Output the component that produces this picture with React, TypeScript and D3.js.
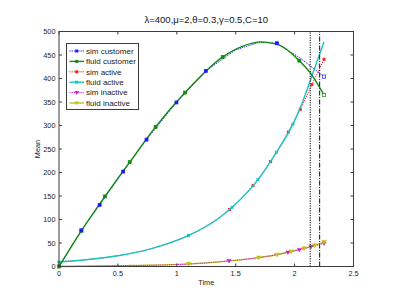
import { useEffect, useRef } from "react";
import * as d3 from "d3";

const TITLE = "λ=400,μ=2,θ=0.3,γ=0.5,C=10";
const X_TICKS = [0, 0.5, 1, 1.5, 2, 2.5];
const Y_TICKS = [0, 50, 100, 150, 200, 250, 300, 350, 400, 450, 500];

// fluid customer (curve points, markers)
const fluidCustT = [0, 0.19, 0.39, 0.6, 0.82, 1.07, 1.39, 1.55, 1.72, 1.86, 2.04, 2.13, 2.25];
const fluidCustV = [0, 76, 149, 222, 297, 370, 446, 468, 478, 472, 438, 413, 365];
const fluidCustMarkT = [0, 0.19, 0.39, 0.6, 0.82, 1.07, 1.39, 2.04, 2.25];
const fluidCustMarkV = [0, 76, 149, 222, 297, 370, 446, 438, 365];

// sim customer
const simCustT = [0, 0.19, 0.345, 0.545, 0.743, 0.997, 1.246, 1.5, 1.7, 1.85, 2.05, 2.25];
const simCustV = [0, 77, 131, 202, 270, 349, 416, 461, 477, 475, 443, 404];
const simCustMarkT = [0.19, 0.345, 0.545, 0.743, 0.997, 1.246, 1.85, 2.25];
const simCustMarkV = [77, 131, 202, 270, 349, 416, 475, 404];

// fluid active
const fluidActT = [0, 0.25, 0.5, 0.77, 1.1, 1.336, 1.469, 1.689, 1.845, 1.986, 2.06, 2.16, 2.25];
const fluidActV = [9.5, 15, 23, 37, 66, 99, 126, 185, 243, 303, 345, 415, 478];
const fluidActMarkT = [0, 1.1, 1.469, 1.689, 1.845, 1.986];
const fluidActMarkV = [9.5, 66, 126, 185, 243, 303];

// sim active
const simActT = [0, 0.25, 0.5, 0.77, 1.1, 1.3, 1.449, 1.647, 1.797, 1.946, 2.048, 2.147, 2.25];
const simActV = [10, 15, 23, 37, 66, 94, 121, 172, 223, 286, 334, 387, 441];
const simActMarkT = [1.1, 1.449, 1.647, 1.797, 1.946, 2.048, 2.147, 2.25];
const simActMarkV = [66, 121, 172, 223, 286, 334, 387, 441];

// fluid inactive
const fluidInT = [0, 0.5, 1.1, 1.45, 1.697, 1.85, 1.97, 2.08, 2.17, 2.25];
const fluidInV = [0, 1.5, 5.5, 12, 19, 25, 32, 38.5, 45, 52];
const fluidInMarkT = [0, 1.1, 1.697, 1.85, 1.97, 2.08, 2.17, 2.25];
const fluidInMarkV = [0, 5.5, 19, 25, 32, 38.5, 45, 52];

// sim inactive
const simInT = [0, 0.5, 1.1, 1.443, 1.7, 1.943, 2.04, 2.14, 2.25];
const simInV = [0, 1.5, 5, 12, 19, 30, 35.5, 42, 49];
const simInMarkT = [1.443, 1.943, 2.04, 2.14, 2.25];
const simInMarkV = [12, 30, 35.5, 42, 49];

const VLINE_DOT = 2.133;
const VLINE_DASHDOT = 2.212;

const LEGEND = [
  { name: "sim customer", color: "#1a1aff", dash: "1.2,1", width: 1, marker: "square" },
  { name: "fluid customer", color: "#118a11", dash: null, width: 1.4, marker: "square" },
  { name: "sim active", color: "#ff2020", dash: "1.2,1", width: 1, marker: "square" },
  { name: "fluid active", color: "#18c4c4", dash: null, width: 1.4, marker: "square" },
  { name: "sim inactive", color: "#d020d0", dash: "1.2,1", width: 1, marker: "tri" },
  { name: "fluid inactive", color: "#c4c018", dash: null, width: 1.4, marker: "tri" },
];

export default function App() {
  const ref = useRef<SVGSVGElement>(null);

  useEffect(() => {
    const svg = d3.select(ref.current);
    svg.selectAll("*").remove();
    const W = 399;
    const H = 308;
    const m = { left: 59, right: 45.5, top: 31.5, bottom: 41.5 };
    const x = d3.scaleLinear().domain([0, 2.5]).range([m.left, W - m.right]);
    const y = d3.scaleLinear().domain([0, 500]).range([H - m.bottom, m.top]);
    const font = "Liberation Sans, Arial, sans-serif";
    const axisColor = "#3c3c3c";

    svg.append("rect").attr("width", W).attr("height", H).attr("fill", "#fff");

    const zip = (t: number[], v: number[]) => t.map((d, i) => [d, v[i]] as [number, number]);
    const line = d3
      .line<[number, number]>()
      .x((d) => x(d[0]))
      .y((d) => y(d[1]))
      .curve(d3.curveMonotoneX);
    const straight = d3
      .line<[number, number]>()
      .x((d) => x(d[0]))
      .y((d) => y(d[1]));

    const plot = svg.append("g");

    const drawPath = (pts: [number, number][], color: string, w: number, dash: string | null, smooth: boolean) => {
      plot
        .append("path")
        .attr("d", (smooth ? line : straight)(pts))
        .attr("fill", "none")
        .attr("stroke", color)
        .attr("stroke-width", w)
        .attr("stroke-dasharray", dash);
    };

    const drawMarkers = (pts: [number, number][], color: string, kind: string, size: number, filled: boolean) => {
      pts.forEach(([t, v]) => {
        const cx = x(t);
        const cy = y(v);
        if (kind === "square") {
          plot
            .append("rect")
            .attr("x", cx - size / 2)
            .attr("y", cy - size / 2)
            .attr("width", size)
            .attr("height", size)
            .attr("fill", filled ? color : "#fff")
            .attr("stroke", color)
            .attr("stroke-width", 0.7);
        } else {
          const h = size / 2;
          plot
            .append("path")
            .attr("d", `M${cx - h},${cy - h * 0.7}L${cx + h},${cy - h * 0.7}L${cx},${cy + h}Z`)
            .attr("fill", filled ? color : "none")
            .attr("stroke", color)
            .attr("stroke-width", 0.6);
        }
      });
    };

    // inactive
    drawPath(zip(fluidInT, fluidInV), LEGEND[5].color, 1.4, null, true);
    drawPath(zip(simInT, simInV), LEGEND[4].color, 1, "1.2,1", true);
    drawMarkers(zip(simInMarkT, simInMarkV), LEGEND[4].color, "tri", 4, true);
    drawMarkers(zip(fluidInMarkT, fluidInMarkV), LEGEND[5].color, "tri", 4.5, true);

    // active
    drawPath(zip(simActT, simActV), LEGEND[2].color, 1, "1.2,1", true);
    drawMarkers(zip(simActMarkT, simActMarkV), LEGEND[2].color, "square", 2.2, true);
    drawPath(zip(fluidActT, fluidActV), LEGEND[3].color, 1.4, null, true);
    drawMarkers(zip(fluidActMarkT, fluidActMarkV), LEGEND[3].color, "square", 2.2, true);

    // customer
    drawPath(zip(simCustT, simCustV), LEGEND[0].color, 1, "1.2,1", false);
    drawPath(zip(fluidCustT, fluidCustV), LEGEND[1].color, 1.4, null, true);
    drawMarkers(zip(fluidCustMarkT, fluidCustMarkV).slice(0, -1), LEGEND[1].color, "square", 3, true);
    drawMarkers(zip(fluidCustMarkT, fluidCustMarkV).slice(-1), LEGEND[1].color, "square", 3.2, false);
    drawMarkers(zip(simCustMarkT, simCustMarkV).slice(0, -1), LEGEND[0].color, "square", 3, true);
    drawMarkers(zip(simCustMarkT, simCustMarkV).slice(-1), LEGEND[0].color, "square", 3.2, false);

    // vertical markers
    svg
      .append("line")
      .attr("x1", x(VLINE_DOT))
      .attr("x2", x(VLINE_DOT))
      .attr("y1", y(0))
      .attr("y2", y(500))
      .attr("stroke", "#333")
      .attr("stroke-width", 1.2)
      .attr("stroke-dasharray", "1.2,1.2");
    svg
      .append("line")
      .attr("x1", x(VLINE_DASHDOT))
      .attr("x2", x(VLINE_DASHDOT))
      .attr("y1", y(0))
      .attr("y2", y(500))
      .attr("stroke", "#333")
      .attr("stroke-width", 1.2)
      .attr("stroke-dasharray", "5,1.5,1,1.5");

    // axes box and ticks
    const x0 = x(0), x1 = x(2.5), y0 = y(0), y1 = y(500);
    svg
      .append("rect")
      .attr("x", x0)
      .attr("y", y1)
      .attr("width", x1 - x0)
      .attr("height", y0 - y1)
      .attr("fill", "none")
      .attr("stroke", axisColor)
      .attr("stroke-width", 1);
    X_TICKS.forEach((t) => {
      const px = x(t);
      svg.append("line").attr("x1", px).attr("x2", px).attr("y1", y0).attr("y2", y0 - 3).attr("stroke", axisColor);
      svg.append("line").attr("x1", px).attr("x2", px).attr("y1", y1).attr("y2", y1 + 3).attr("stroke", axisColor);
      svg
        .append("text")
        .attr("x", px)
        .attr("y", y0 + 9.5)
        .attr("text-anchor", "middle")
        .attr("font-family", font)
        .attr("font-size", 7.3)
        .attr("fill", "#222")
        .text(String(t));
    });
    Y_TICKS.forEach((v) => {
      const py = y(v);
      svg.append("line").attr("x1", x0).attr("x2", x0 + 3).attr("y1", py).attr("y2", py).attr("stroke", axisColor);
      svg.append("line").attr("x1", x1).attr("x2", x1 - 3).attr("y1", py).attr("y2", py).attr("stroke", axisColor);
      svg
        .append("text")
        .attr("x", x0 - 3.5)
        .attr("y", py + 2.7)
        .attr("text-anchor", "end")
        .attr("font-family", font)
        .attr("font-size", 7.3)
        .attr("fill", "#222")
        .text(String(v));
    });

    svg
      .append("text")
      .attr("x", (x0 + x1) / 2)
      .attr("y", 23)
      .attr("text-anchor", "middle")
      .attr("font-family", font)
      .attr("font-size", 9.5)
      .attr("fill", "#111")
      .text(TITLE);
    svg
      .append("text")
      .attr("x", (x0 + x1) / 2)
      .attr("y", 285)
      .attr("text-anchor", "middle")
      .attr("font-family", font)
      .attr("font-size", 7.3)
      .attr("fill", "#222")
      .text("Time");
    svg
      .append("text")
      .attr("transform", `translate(40,${(y0 + y1) / 2}) rotate(-90)`)
      .attr("text-anchor", "middle")
      .attr("font-family", font)
      .attr("font-size", 7.3)
      .attr("fill", "#222")
      .text("Mean");

    // legend
    const lg = svg.append("g");
    lg.append("rect")
      .attr("x", 66.5)
      .attr("y", 43.5)
      .attr("width", 72)
      .attr("height", 66)
      .attr("fill", "#fff")
      .attr("stroke", axisColor)
      .attr("stroke-width", 1);
    LEGEND.forEach((d, i) => {
      const ly = 51 + i * 10.4;
      lg.append("line")
        .attr("x1", 69.5)
        .attr("x2", 84)
        .attr("y1", ly)
        .attr("y2", ly)
        .attr("stroke", d.color)
        .attr("stroke-width", d.width)
        .attr("stroke-dasharray", d.dash);
      if (d.marker === "square") {
        lg.append("rect")
          .attr("x", 76.7 - 1.5)
          .attr("y", ly - 1.5)
          .attr("width", 3)
          .attr("height", 3)
          .attr("fill", d.color);
      } else {
        lg.append("path")
          .attr("d", `M${76.7 - 2.3},${ly - 1.6}L${76.7 + 2.3},${ly - 1.6}L${76.7},${ly + 2.3}Z`)
          .attr("fill", d.color);
      }
      lg.append("text")
        .attr("x", 86)
        .attr("y", ly + 2.8)
        .attr("font-family", font)
        .attr("font-size", 8)
        .attr("fill", "#222")
        .text(d.name);
    });
  }, []);

  return <svg ref={ref} width={399} height={308} style={{ position: "absolute", left: 0, top: 0 }} />;
}
